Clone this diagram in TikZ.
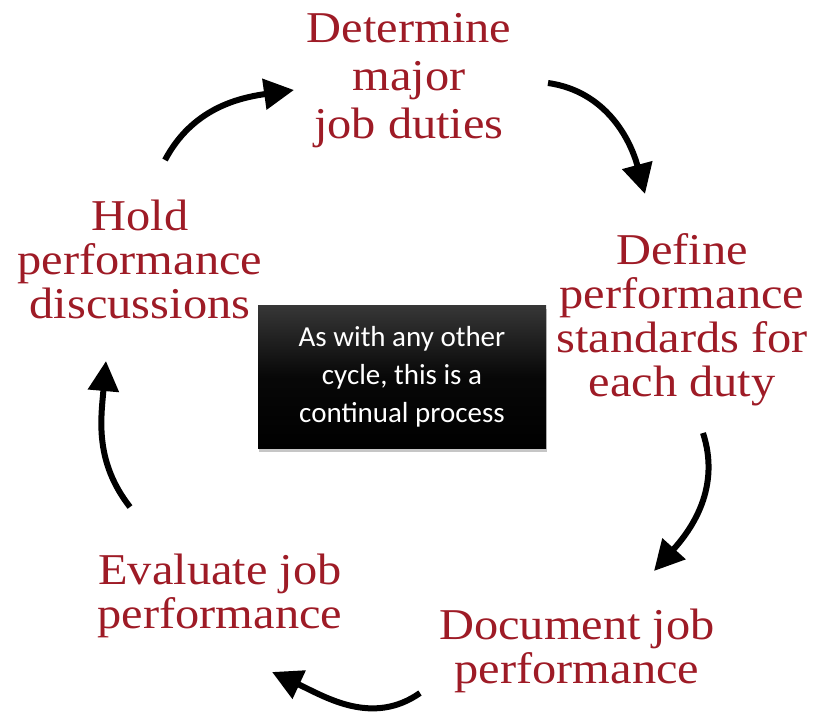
\documentclass[tikz,border=0pt]{standalone}
\usepackage{fontspec}
\usepackage{tikz}
\usetikzlibrary{arrows.meta,shadows}
\newfontfamily\stagefont[FakeStretch=1.1]{Liberation Serif}
\newfontfamily\notefont{Carlito}
\definecolor{stagered}{RGB}{158,27,38}
\definecolor{boxtop}{RGB}{55,55,55}

\begin{document}
\begin{tikzpicture}[x=1pt,y=1pt,
  stage/.style={text=stagered, align=center, inner sep=0pt, anchor=base,
    font=\stagefont\fontsize{44}{44}\selectfont},
  cyclearrow/.style={line width=6pt, -{Triangle[length=30pt,width=30pt]}},
  notebox/.style={text=white, align=center, inner sep=0pt,
    minimum width=288pt, minimum height=143pt,
    top color=boxtop, bottom color=black, middle color=black!97!white,
    drop shadow={shadow xshift=1pt, shadow yshift=-4pt, opacity=0.45},
    font=\notefont\fontsize{29}{38}\selectfont}]
\useasboundingbox (0,0) rectangle (813,-715);
% the five steps of the cycle (placed at the baseline of their last line)
\node [stage, font=\stagefont\fontsize{44}{48}\selectfont] (determine) at (409,-138) {Determine\\major\\job duties};
\node [stage] (define) at (682,-396) {Define\\performance\\standards for\\each duty};
\node [stage] (document) at (577,-683) {Document job\\performance};
\node [stage] (evaluate) at (220,-628) {Evaluate job\\performance};
\node [stage] (hold) at (140,-318) {Hold\\performance\\discussions};
% note in the middle
\node [notebox] (note) at (402,-376.5) {As with any other\\cycle, this is a\\continual process};
% arrow ends
\coordinate (a1s) at (165,-160);
\coordinate (a1e) at (294,-90);
\coordinate (a2s) at (548,-83);
\coordinate (a2e) at (645,-194);
\coordinate (a3s) at (703,-433);
\coordinate (a3e) at (654,-571);
\coordinate (a4s) at (420,-693);
\coordinate (a4e) at (272,-672);
\coordinate (a5s) at (130,-507);
\coordinate (a5e) at (106,-361);
% arrows round the cycle
\draw [cyclearrow] (a1s) to [out=62, in=188] (a1e);
\draw [cyclearrow] (a2s) to [out=-8, in=105] (a2e);
\draw [cyclearrow] (a3s) to [out=-72, in=48] (a3e);
\draw [cyclearrow] (a4s) to [out=-145, in=-25] (a4e);
\draw [cyclearrow] (a5s) to [out=128, in=-95] (a5e);
\end{tikzpicture}
\end{document}
